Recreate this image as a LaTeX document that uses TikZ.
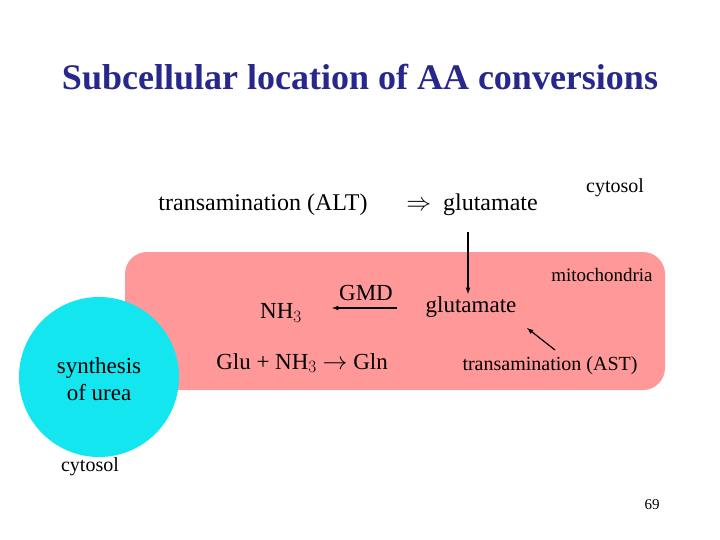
\documentclass[tikz,border=0pt]{standalone}
\usepackage{fontspec}
\setmainfont{Liberation Serif}
\definecolor{ttl}{RGB}{40,40,140}
\definecolor{pinkbg}{RGB}{255,153,153}
\definecolor{cyn}{RGB}{20,230,240}
\begin{document}
\begin{tikzpicture}[x=1pt,y=-1pt,
  t/.style={inner sep=0pt,anchor=center},
  arr/.style={-latex,line width=1.2pt}]
\useasboundingbox (0,0) rectangle (720,540);
\fill[white] (0,0) rectangle (720,540);
\node[t,text=ttl,font=\fontsize{36}{40}\selectfont\bfseries] (title) at (360,77) {Subcellular location of AA conversions};
\fill[pinkbg,rounded corners=22] (125,252) rectangle (665,390);
\fill[cyn] (99,377) circle (80);
\node[t,font=\fontsize{24}{28}\selectfont] (alt) at (263,205) {transamination (ALT)};
\node[t,font=\fontsize{24}{28}\selectfont] (glu1) at (472,205) {$\Rightarrow$\ \ glutamate};
\node[t,font=\fontsize{20}{23}\selectfont] (cyt1) at (615,188) {cytosol};
\node[t,font=\fontsize{19}{22}\selectfont] (mito) at (602,275) {mitochondria};
\node[t,font=\fontsize{23}{27}\selectfont] (nh3) at (281,313) {NH$_3$};
\node[t,font=\fontsize{23}{27}\selectfont] (gmd) at (366,293) {GMD};
\node[t,font=\fontsize{23}{27}\selectfont] (glu2) at (471,307) {glutamate};
\node[t,font=\fontsize{23}{27}\selectfont] (gln) at (302,363) {Glu + NH$_3$ $\rightarrow$ Gln};
\node[t,font=\fontsize{20}{23}\selectfont] (ast) at (550,366) {transamination (AST)};
\node[t,font=\fontsize{23}{27}\selectfont,align=center] (urea) at (99,379) {synthesis\\ of urea};
\node[t,font=\fontsize{20}{23}\selectfont] (cyt2) at (90,467) {cytosol};
\node[t,font=\fontsize{15}{17}\selectfont] (pg) at (652,505) {69};
\coordinate (a1) at (468,232); \coordinate (a2) at (468,294);
\draw[arr] (a1) -- (a2);
\coordinate (b1) at (397,308); \coordinate (b2) at (332,308);
\draw[arr] (b1) -- (b2);
\coordinate (c1) at (555,350); \coordinate (c2) at (527,328);
\draw[arr] (c1) -- (c2);
\end{tikzpicture}
\end{document}
